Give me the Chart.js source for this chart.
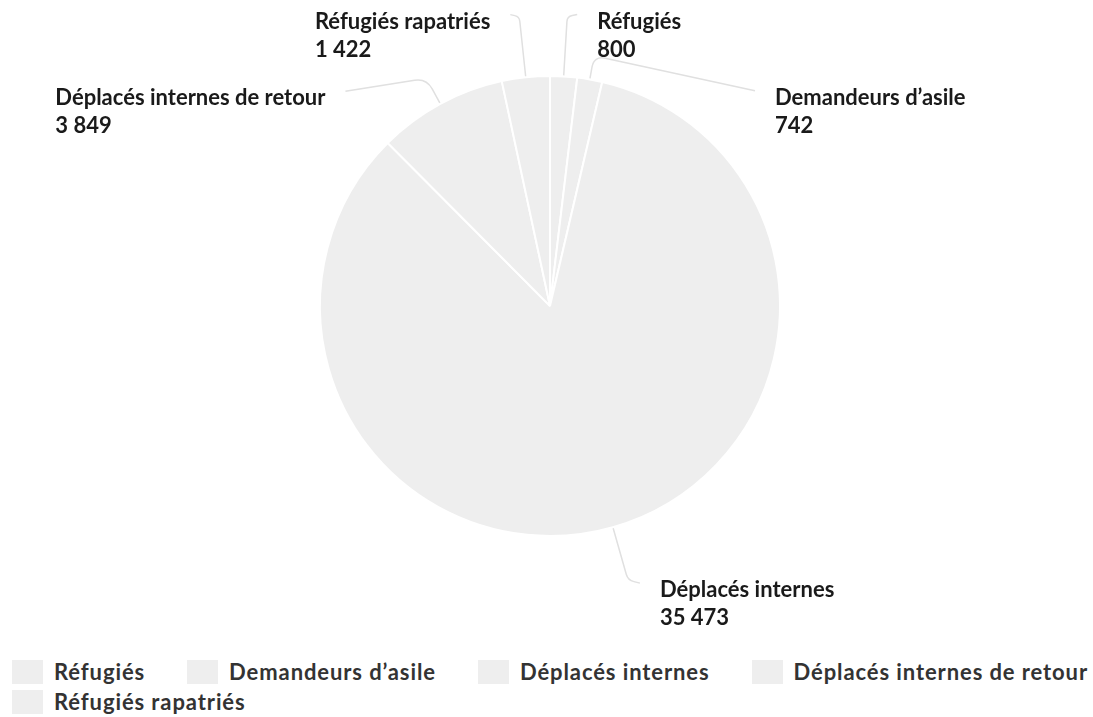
<!DOCTYPE html>
<html lang="fr">
<head>
    <meta charset="UTF-8">
    <title>Déplacements</title>
    <script src="https://cdn.jsdelivr.net/npm/chart.js"></script>
    <style>
        body { margin: 0; background: #fff; font-family: Lato, sans-serif; }
        .chart-container { position: relative; width: 1093px; height: 655px; }
        .legend {
            display: flex; flex-wrap: wrap; column-gap: 42px; row-gap: 6px;
            padding-left: 12px; width: 1081px; margin-top: 5px;
        }
        .legend-item { display: flex; align-items: center; height: 24px; }
        .legend-box { width: 31px; height: 24px; margin-right: 11px; }
        .legend-text { font-size: 22px; font-weight: 700; letter-spacing: 0.9px; color: #333; white-space: nowrap; line-height: 24px; }
    </style>
</head>
<body>
    <div class="chart-container">
        <canvas id="pieChart"></canvas>
    </div>
    <div class="legend" id="legend"></div>

    <script>
        const categories = ['Réfugiés', 'Demandeurs d’asile', 'Déplacés internes', 'Déplacés internes de retour', 'Réfugiés rapatriés'];
        const values = [800, 742, 35473, 3849, 1422];
        const sliceColors = ['#eeeeee', '#eeeeee', '#eeeeee', '#eeeeee', '#eeeeee'];

        // outside labels: radial length of the leader, then offset of the text baseline from the bend
        const labelLayout = [
            { ext: 60, dx: 30, dy: 12 },
            { ext: 24, dx: 181, dy: 49 },
            { ext: 55, dx: 32, dy: 17 },
            { ext: 29, dx: -101, dy: 27 },
            { ext: 61, dx: -29, dy: 12 }
        ];

        function formatNumber(n) {
            return String(n).replace(/\B(?=(\d{3})+(?!\d))/g, ' ');
        }

        const outsideLabels = {
            id: 'outsideLabels',
            afterDraw(chart) {
                const ctx = chart.ctx;
                const meta = chart.getDatasetMeta(0);
                meta.data.forEach((arc, i) => {
                    const lay = labelLayout[i];
                    const mid = (arc.startAngle + arc.endAngle) / 2;
                    const r = arc.outerRadius;
                    const cos = Math.cos(mid), sin = Math.sin(mid);
                    const p0 = { x: arc.x + cos * (r + 1), y: arc.y + sin * (r + 1) };
                    const p1 = { x: arc.x + cos * (r + lay.ext), y: arc.y + sin * (r + lay.ext) };
                    const side = lay.dx >= 0 ? 1 : -1;
                    const ax = p1.x + lay.dx, ay = p1.y + lay.dy;
                    const p2 = { x: ax - side * 20, y: ay - 14 };

                    // rounded bend
                    const d1 = Math.hypot(p1.x - p0.x, p1.y - p0.y);
                    const d2 = Math.hypot(p2.x - p1.x, p2.y - p1.y);
                    const rad = Math.min(12, d1 / 2, d2 / 2);
                    const pa = { x: p1.x - (p1.x - p0.x) / d1 * rad, y: p1.y - (p1.y - p0.y) / d1 * rad };
                    const pb = { x: p1.x + (p2.x - p1.x) / d2 * rad, y: p1.y + (p2.y - p1.y) / d2 * rad };

                    ctx.save();
                    ctx.strokeStyle = '#e0e0e0';
                    ctx.lineWidth = 1.5;
                    ctx.beginPath();
                    ctx.moveTo(p0.x, p0.y);
                    ctx.lineTo(pa.x, pa.y);
                    ctx.quadraticCurveTo(p1.x, p1.y, pb.x, pb.y);
                    ctx.lineTo(p2.x, p2.y);
                    ctx.stroke();

                    const line1 = chart.data.labels[i];
                    const line2 = formatNumber(chart.data.datasets[0].data[i]);
                    ctx.fillStyle = '#1a1a1a';
                    ctx.font = 'bold 22px Lato';
                    ctx.textAlign = 'left';
                    ctx.textBaseline = 'alphabetic';
                    const w = Math.max(ctx.measureText(line1).width, ctx.measureText(line2).width);
                    const tx = side > 0 ? ax : ax - w;
                    ctx.fillText(line1, tx, ay);
                    ctx.fillText(line2, tx, ay + 28);
                    ctx.restore();
                });
            }
        };

        const ctx = document.getElementById('pieChart').getContext('2d');
        const chart = new Chart(ctx, {
            type: 'pie',
            data: {
                labels: categories,
                datasets: [{
                    data: values,
                    backgroundColor: sliceColors,
                    borderColor: '#ffffff',
                    borderWidth: 2
                }]
            },
            options: {
                responsive: true,
                maintainAspectRatio: false,
                animation: false,
                layout: { padding: { left: 319, right: 312, top: 75, bottom: 118 } },
                plugins: {
                    legend: { display: false },
                    tooltip: { enabled: false }
                }
            },
            plugins: [outsideLabels]
        });

        const legend = document.getElementById('legend');
        categories.forEach((name, i) => {
            const item = document.createElement('div');
            item.className = 'legend-item';
            item.innerHTML = `<span class="legend-box" style="background:${sliceColors[i]}"></span><span class="legend-text">${name}</span>`;
            legend.appendChild(item);
        });
    </script>
</body>
</html>
